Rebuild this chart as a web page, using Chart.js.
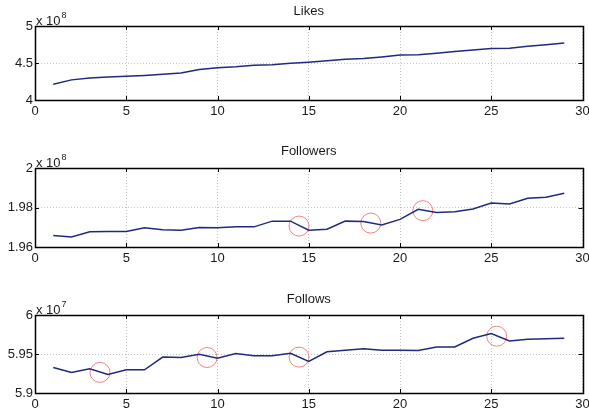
<!DOCTYPE html>
<html>
<head>
<meta charset="utf-8">
<script src="https://cdn.jsdelivr.net/npm/chart.js@4"></script>
<style>
  html, body { margin: 0; padding: 0; background: #fff; }
  #wrap { position: relative; width: 589px; height: 415px; overflow: hidden; }
  canvas { position: absolute; left: 0; }
</style>
</head>
<body>
<div id="wrap">
  <canvas id="c1" width="589" height="124" style="top:0px"></canvas>
  <canvas id="c2" width="589" height="131" style="top:140px"></canvas>
  <canvas id="c3" width="589" height="127" style="top:288px"></canvas>
</div>
<script>
// ---- data (values in the axis units shown, i.e. x 10^8 / x 10^8 / x 10^7) ----
const days = [1,2,3,4,5,6,7,8,9,10,11,12,13,14,15,16,17,18,19,20,21,22,23,24,25,26,27,28,29];

const likes = [4.213,4.272,4.297,4.312,4.322,4.332,4.347,4.366,4.411,4.436,4.450,4.470,4.475,4.495,4.510,4.530,4.551,4.560,4.581,4.607,4.611,4.632,4.654,4.675,4.697,4.700,4.726,4.748,4.769];

const followers = [1.9658,1.9651,1.9677,1.9678,1.9678,1.9697,1.9687,1.9685,1.9699,1.9697,1.9702,1.9702,1.9731,1.9731,1.9685,1.9690,1.9731,1.9729,1.9711,1.9740,1.9791,1.9775,1.9779,1.9792,1.9823,1.9818,1.9847,1.9852,1.9872];

const follows = [5.9328,5.9264,5.9311,5.9238,5.9298,5.9298,5.9460,5.9455,5.9498,5.9447,5.9506,5.9477,5.9477,5.9510,5.9404,5.9528,5.9549,5.9566,5.9549,5.9549,5.9545,5.9591,5.9591,5.9702,5.9762,5.9668,5.9689,5.9694,5.9702];

// highlighted (circled) points
const followersCircleX = [14.47, 18.4, 21.25];
const followersCircleY = [1.9706, 1.9721, 1.9784];
const followsCircleX = [3.56, 9.43, 14.47, 25.3];
const followsCircleY = [5.9264, 5.9455, 5.946, 5.9728];

// titles, exponents, tick labels
const titles = ['Likes', 'Followers', 'Follows'];
const exponents = ['8', '8', '7'];
const xTickLabels = ['0','5','10','15','20','25','30'];
const likesTicks = ['4','4.5','5'];
const followersTicks = ['1.96','1.98','2'];
const followsTicks = ['5.9','5.95','6'];
const yRanges = [[4, 5, 0.5], [1.96, 2.0, 0.02], [5.9, 6.0, 0.05]];

const FONT = "'Liberation Sans', Arial, Helvetica, sans-serif";
const TEXT = '#1a1a1a';
const LINE = '#1f2a7c';
const CIRCLE = 'rgba(236,110,110,0.85)';

const framePlugin = {
  id: 'frame',
  afterDraw(chart, args, opts) {
    const { ctx, chartArea: a, scales } = chart;
    ctx.save();
    // inward tick marks
    ctx.strokeStyle = '#000';
    ctx.lineWidth = 1;
    const tl = 4;
    ctx.beginPath();
    scales.x.ticks.forEach(t => {
      const px = Math.round(scales.x.getPixelForValue(t.value)) + 0.5;
      ctx.moveTo(px, a.bottom); ctx.lineTo(px, a.bottom - tl);
      ctx.moveTo(px, a.top); ctx.lineTo(px, a.top + tl);
    });
    scales.y.ticks.forEach(t => {
      const py = Math.round(scales.y.getPixelForValue(t.value)) + 0.5;
      ctx.moveTo(a.left, py); ctx.lineTo(a.left + tl, py);
      ctx.moveTo(a.right, py); ctx.lineTo(a.right - tl, py);
    });
    ctx.stroke();
    // box
    ctx.strokeStyle = '#000';
    ctx.lineWidth = 1.5;
    ctx.strokeRect(Math.round(a.left) + 0.5, Math.round(a.top) + 0.5,
                   Math.round(a.right - a.left), Math.round(a.bottom - a.top));
    // exponent label
    ctx.fillStyle = TEXT;
    ctx.textBaseline = 'alphabetic';
    ctx.textAlign = 'left';
    ctx.font = '13px ' + FONT;
    ctx.fillText('x 10', a.left + 1, a.top - 1);
    const w = ctx.measureText('x 10').width;
    ctx.font = '9px ' + FONT;
    ctx.fillText(opts.exp, a.left + 1 + w + 1, a.top - 8);
    ctx.restore();
  }
};

function makeChart(id, idx, values, cx, cy, yTicks, titlePad) {
  const [ymin, ymax, ystep] = yRanges[idx];
  const datasets = [{
    data: days.map((d, i) => ({ x: d, y: values[i] })),
    borderColor: LINE,
    borderWidth: 1.5,
    pointRadius: 0,
    tension: 0,
    fill: false
  }];
  if (cx) {
    datasets.push({
      data: cx.map((x, i) => ({ x: x, y: cy[i] })),
      showLine: false,
      pointStyle: 'circle',
      pointRadius: 10,
      pointBorderWidth: 1,
      pointBorderColor: CIRCLE,
      pointBackgroundColor: 'rgba(0,0,0,0)',
      borderColor: CIRCLE
    });
  }
  return new Chart(document.getElementById(id), {
    type: 'line',
    data: { datasets },
    plugins: [framePlugin],
    options: {
      responsive: false,
      animation: false,
      devicePixelRatio: 1,
      layout: { autoPadding: false, padding: { left: 0, right: 6.5, top: 0, bottom: titlePad.bottomPad } },
      plugins: {
        legend: { display: false },
        tooltip: { enabled: false },
        title: {
          display: true,
          fullSize: false,
          text: titles[idx],
          color: TEXT,
          font: { family: FONT, size: 13, weight: 'normal', lineHeight: 1.2 },
          padding: { top: titlePad.top, bottom: titlePad.bottom }
        },
        frame: { exp: exponents[idx] }
      },
      scales: {
        x: {
          type: 'linear',
          min: 0, max: 30,
          ticks: {
            stepSize: 5,
            color: TEXT,
            padding: 4,
            maxRotation: 0,
            font: { family: FONT, size: 13 },
            callback: (v, i) => xTickLabels[i]
          },
          grid: { color: '#c4c4c4', lineWidth: 1, drawTicks: false },
          border: { display: false, dash: [1, 2] },
          afterFit(s) { s.height = 22; s.paddingRight = 0; }
        },
        y: {
          type: 'linear',
          min: ymin, max: ymax,
          ticks: {
            stepSize: ystep,
            color: TEXT,
            padding: 2,
            font: { family: FONT, size: 13 },
            callback: (v, i) => yTicks[i]
          },
          grid: { color: '#c4c4c4', lineWidth: 1, drawTicks: false },
          border: { display: false, dash: [1, 2] },
          afterFit(s) { s.width = 35; }
        }
      }
    }
  });
}

makeChart('c1', 0, likes, null, null, likesTicks, { top: 4, bottom: 6.4, bottomPad: 2 });
makeChart('c2', 1, followers, followersCircleX, followersCircleY, followersTicks, { top: 4, bottom: 8.4, bottomPad: 2 });
makeChart('c3', 2, follows, followsCircleX, followsCircleY, followsTicks, { top: 4, bottom: 7.4, bottomPad: 0 });
</script>
</body>
</html>
